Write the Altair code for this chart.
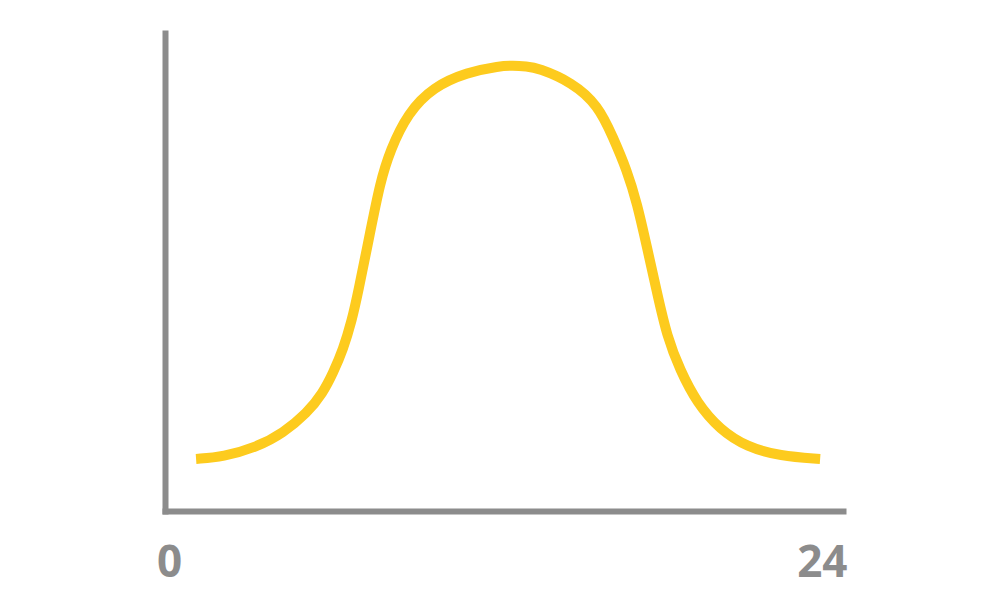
import altair as alt
import pandas as pd

# hour of day and relative level of the curve
hours = [1.10, 2.05, 3.26, 4.18, 5.03, 5.59, 5.95, 6.30, 6.62, 6.83, 7.26, 7.61, 7.97,
         8.60, 9.49, 10.69, 11.86, 12.30, 12.80, 13.20, 14.41, 15.33, 15.86, 16.35,
         16.71, 17.06, 17.42, 17.77, 18.23, 18.83, 19.65, 20.60, 21.77, 23.19]
levels = [10.9, 11.3, 13.4, 16.3, 20.5, 24.7, 28.9, 33.7, 40.0, 45.6, 58.2, 68.6, 75.5,
          83.3, 88.7, 91.8, 93.1, 93.2, 93.0, 92.7, 89.7, 84.9, 78.2, 71.3,
          64.4, 55.2, 45.6, 36.5, 29.5, 22.6, 17.0, 13.4, 11.5, 10.9]
tick_values = [0, 24]

df = pd.DataFrame({"hour": hours, "level": levels})

GREY = "#8c8c8c"
YELLOW = "#fdcb1e"

chart = alt.Chart(df).mark_line(
    color=YELLOW, strokeWidth=10, strokeCap="butt", interpolate="basis"
).encode(
    x=alt.X("hour:Q", scale=alt.Scale(domain=[0, 24], nice=False, zero=False),
            axis=alt.Axis(values=tick_values, title=None, grid=False, ticks=False, tickSize=0,
                          domainColor=GREY, domainWidth=6, domainCap="square",
                          labelFont="Open Sans", labelFontSize=44, labelFontWeight="bold",
                          labelColor=GREY, labelPadding=65, labelBaseline="alphabetic",
                          labelAlign={"expr": "datum.value == 0 ? 'center' : 'right'"},
                          labelOffset=4, labelFlush=False, labelOverlap=False)),
    y=alt.Y("level:Q", scale=alt.Scale(domain=[0, 100], nice=False),
            axis=alt.Axis(title=None, grid=False, ticks=False, labels=False,
                          domainColor=GREY, domainWidth=6, domainCap="square")),
).properties(
    width=678, height=478,
    autosize=alt.AutoSizeParams(type="none"),
    padding={"left": 157, "top": 25, "right": 150, "bottom": 81},
).configure(background="white").configure_view(stroke=None, strokeWidth=0)

chart.save("out.html", embed_options={"renderer": "svg", "actions": False})
